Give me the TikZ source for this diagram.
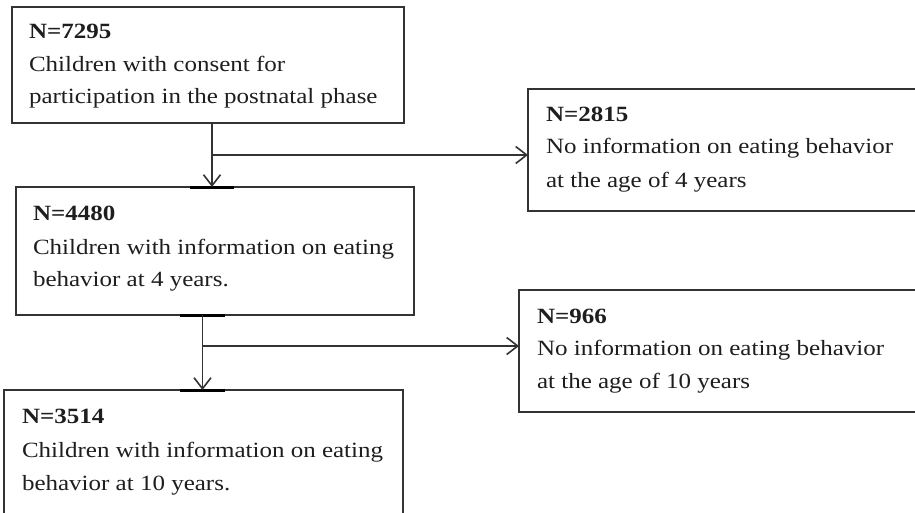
\documentclass[tikz,border=0pt]{standalone}
\usepackage{fontspec}
\setmainfont{Liberation Serif}
\usepackage{graphicx}
\usetikzlibrary{arrows.meta,calc}
\newcommand{\vsq}[1]{\scalebox{1}[0.87]{#1}}
\definecolor{linec}{HTML}{333333}
\definecolor{textc}{HTML}{1E1E1E}
\begin{document}
\begin{tikzpicture}[x=1pt,y=-1pt,
  box/.style={draw=linec,line width=1.3pt,rectangle,inner sep=0pt,outer sep=0pt,anchor=north west},
  txt/.style={anchor=base west,inner sep=0pt,outer sep=0pt,text=textc,font=\fontsize{25}{30}\selectfont},
  conn/.style={draw=linec,line width=1.6pt},
  arr/.style={conn,-{Straight Barb[length=11pt,width=17pt,line width=1.6pt]}},
  barline/.style={draw=black,line width=3pt}]
\useasboundingbox (0,0) rectangle (915,512);
\clip (0,0) rectangle (915,512);
\fill[white] (0,0) rectangle (915,512);
% boxes
\node[box,minimum width=392pt,minimum height=116pt] (b1) at (12,7) {};
\node[box,minimum width=420pt,minimum height=122pt] (b2) at (528,89) {};
\node[box,minimum width=398pt,minimum height=128pt] (b3) at (16,187) {};
\node[box,minimum width=420pt,minimum height=122pt] (b4) at (519,290) {};
\node[box,minimum width=399pt,minimum height=150pt] (b5) at (4,390) {};
% texts
\node[txt] (t1a) at (29,38) {\vsq{\bfseries N=7295}};
\node[txt] (t1b) at (29,71) {\vsq{Children with consent for}};
\node[txt] (t1c) at (29,103) {\vsq{participation in the postnatal phase}};
\node[txt] (t2a) at (546,121) {\vsq{\bfseries N=2815}};
\node[txt] (t2b) at (546,153) {\vsq{No information on eating behavior}};
\node[txt] (t2c) at (546,187) {\vsq{at the age of 4 years}};
\node[txt] (t3a) at (33,220) {\vsq{\bfseries N=4480}};
\node[txt] (t3b) at (33,254) {\vsq{Children with information on eating}};
\node[txt] (t3c) at (33,286) {\vsq{behavior at 4 years.}};
\node[txt] (t4a) at (537,323) {\vsq{\bfseries N=966}};
\node[txt] (t4b) at (537,355) {\vsq{No information on eating behavior}};
\node[txt] (t4c) at (537,388) {\vsq{at the age of 10 years}};
\node[txt] (t5a) at (22,423) {\vsq{\bfseries N=3514}};
\node[txt] (t5b) at (22,457) {\vsq{Children with information on eating}};
\node[txt] (t5c) at (22,490) {\vsq{behavior at 10 years.}};
% junctions
\coordinate (j1) at (212,155);
\coordinate (j2) at (202.5,346);
% bars on box edges
\draw[barline] ($(j1 |- b3.north)+(-22,0)$) -- ($(j1 |- b3.north)+(22,0)$);
\draw[barline] ($(j2 |- b3.south)+(-22.5,0)$) -- ($(j2 |- b3.south)+(22.5,0)$);
\draw[barline] ($(j2 |- b5.north)+(-22.5,0)$) -- ($(j2 |- b5.north)+(22.5,0)$);
% connectors
\draw[arr] (j1 |- b1.south) -- (j1 |- b3.north);
\draw[arr] (j1) -- (j1 -| b2.west);
\draw[arr] (j2 |- b3.south) -- (j2 |- b5.north);
\draw[arr] (j2) -- (j2 -| b4.west);
\end{tikzpicture}
\end{document}
